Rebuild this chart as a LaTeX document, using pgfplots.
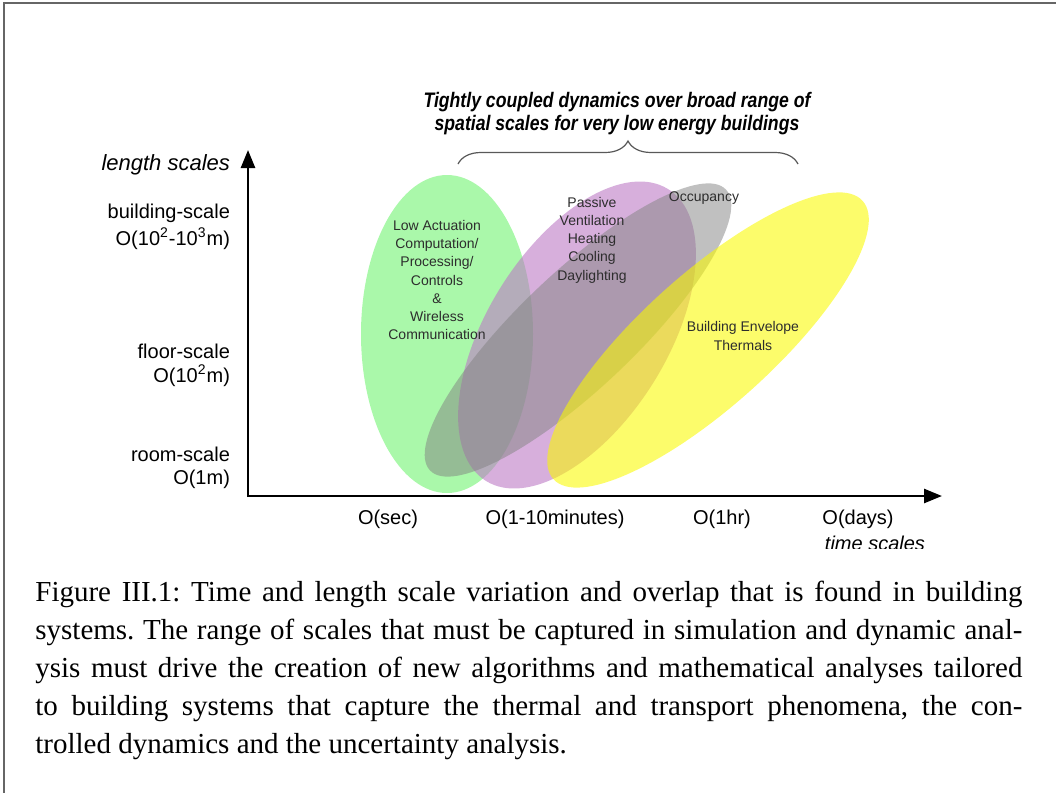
\documentclass[border=0pt]{standalone}
\usepackage{fontspec}
\setmainfont{Liberation Serif}
\newfontfamily\arial{Liberation Sans}
\newfontfamily\narrow{Liberation Sans}[FakeStretch=0.84]
\usepackage{pgfplots}
\pgfplotsset{compat=1.18}
\usetikzlibrary{arrows.meta,decorations.pathreplacing}

\definecolor{ellgreen}{RGB}{170,248,170}
\definecolor{ellpurple}{RGB}{188,122,197}
\definecolor{ellgray}{RGB}{130,130,130}
\definecolor{ellyellow}{RGB}{250,250,0}
\definecolor{txt}{RGB}{45,45,45}

\begin{document}
\frenchspacing
\begin{tikzpicture}
\begin{axis}[
    width=528pt, height=396.5pt, scale only axis,
    xmin=0, xmax=1056, ymin=0, ymax=793, y dir=reverse,
    hide axis, clip=false]

% frame of the figure box
\draw[black!60, line width=0.8pt] (axis cs:4,793) -- (axis cs:4,3) -- (axis cs:1056,3);

% overlapping scale regions
\fill[ellgreen] (axis cs:447,334) ellipse [x radius=43pt, y radius=79.5pt];
\fill[ellpurple, fill opacity=0.6] (axis cs:577,335) ellipse [x radius=86pt, y radius=45pt, rotate=58];
\fill[ellgray, fill opacity=0.5] (axis cs:578,330) ellipse [x radius=102pt, y radius=29pt, rotate=43.5];
\fill[ellyellow, fill opacity=0.58] (axis cs:708,340) ellipse [x radius=104pt, y radius=33pt, rotate=42];

% axes
\addplot[black, line width=1.3pt, -{Triangle[length=9pt,width=7pt]}] coordinates {(247,496) (942,496)};
\addplot[black, line width=1.3pt, -{Triangle[length=9pt,width=7pt]}] coordinates {(248,497) (248,150)};

% region texts
\node[txt, align=center, font=\arial\fontsize{7}{9.1}\selectfont] at (axis cs:437,280)
  {Low Actuation\\Computation/\\Processing/\\Controls\\\&\\Wireless\\Communication};
\node[txt, align=center, font=\arial\fontsize{7}{9.1}\selectfont] at (axis cs:592,240)
  {Passive\\Ventilation\\Heating\\Cooling\\Daylighting};
\node[txt, font=\arial\fontsize{7}{9.1}\selectfont] at (axis cs:704,198) {Occupancy};
\node[txt, align=center, font=\arial\fontsize{7}{9.1}\selectfont] at (axis cs:743,336)
  {Building Envelope\\Thermals};

% y labels
\node[anchor=base east, font=\arial\itshape\fontsize{11}{13}\selectfont] at (axis cs:237,170) {length scales};
\node[anchor=base east, font=\arial\fontsize{10}{12}\selectfont] at (axis cs:237,218) {building-scale};
\node[anchor=base east, font=\arial\fontsize{10}{12}\selectfont] at (axis cs:237,245) {O(10\textsuperscript{2}-10\textsuperscript{3}m)};
\node[anchor=base east, font=\arial\fontsize{10}{12}\selectfont] at (axis cs:237,358) {floor-scale};
\node[anchor=base east, font=\arial\fontsize{10}{12}\selectfont] at (axis cs:237,382) {O(10\textsuperscript{2}m)};
\node[anchor=base east, font=\arial\fontsize{10}{12}\selectfont] at (axis cs:237,461) {room-scale};
\node[anchor=base east, font=\arial\fontsize{10}{12}\selectfont] at (axis cs:237,484) {O(1m)};

% x labels
\node[anchor=base, font=\arial\fontsize{10}{12}\selectfont] at (axis cs:388,524) {O(sec)};
\node[anchor=base, font=\arial\fontsize{10}{12}\selectfont] at (axis cs:555,524) {O(1-10minutes)};
\node[anchor=base, font=\arial\fontsize{10}{12}\selectfont] at (axis cs:722,524) {O(1hr)};
\node[anchor=base, font=\arial\fontsize{10}{12}\selectfont] at (axis cs:858,524) {O(days)};
\begin{scope}
\clip (axis cs:0,0) rectangle (axis cs:1056,548);
\node[anchor=base, font=\arial\itshape\fontsize{10}{12}\selectfont] at (axis cs:875,550) {time scales};
\end{scope}

% title and brace
\node[anchor=base, font=\narrow\bfseries\itshape\fontsize{10.5}{12}\selectfont] at (axis cs:617,107)
  {Tightly coupled dynamics over broad range of};
\node[anchor=base, font=\narrow\bfseries\itshape\fontsize{10.5}{12}\selectfont] at (axis cs:617,130)
  {spatial scales for very low energy buildings};
\draw[decorate, decoration={brace, amplitude=11.5pt}, black!65, line width=0.6pt]
  (axis cs:458,164) -- (axis cs:798,164);

% caption
\node[anchor=base west, inner sep=0, font=\fontsize{14.5}{19}\selectfont] at (axis cs:35,601)
  {\makebox[493.5pt][s]{Figure III.1: Time and length scale variation and overlap that is found in building}};
\node[anchor=base west, inner sep=0, font=\fontsize{14.5}{19}\selectfont] at (axis cs:35,639)
  {\makebox[493.5pt][s]{systems. The range of scales that must be captured in simulation and dynamic anal-}};
\node[anchor=base west, inner sep=0, font=\fontsize{14.5}{19}\selectfont] at (axis cs:35,677)
  {\makebox[493.5pt][s]{ysis must drive the creation of new algorithms and mathematical analyses tailored}};
\node[anchor=base west, inner sep=0, font=\fontsize{14.5}{19}\selectfont] at (axis cs:35,715)
  {\makebox[493.5pt][s]{to building systems that capture the thermal and transport phenomena, the con-}};
\node[anchor=base west, inner sep=0, font=\fontsize{14.5}{19}\selectfont] at (axis cs:35,753)
  {trolled dynamics and the uncertainty analysis.};

\coordinate (bl) at (axis cs:0,793);
\coordinate (tr) at (axis cs:1056,0);
\end{axis}
\pgfresetboundingbox
\path (bl) rectangle (tr);
\end{tikzpicture}
\end{document}
